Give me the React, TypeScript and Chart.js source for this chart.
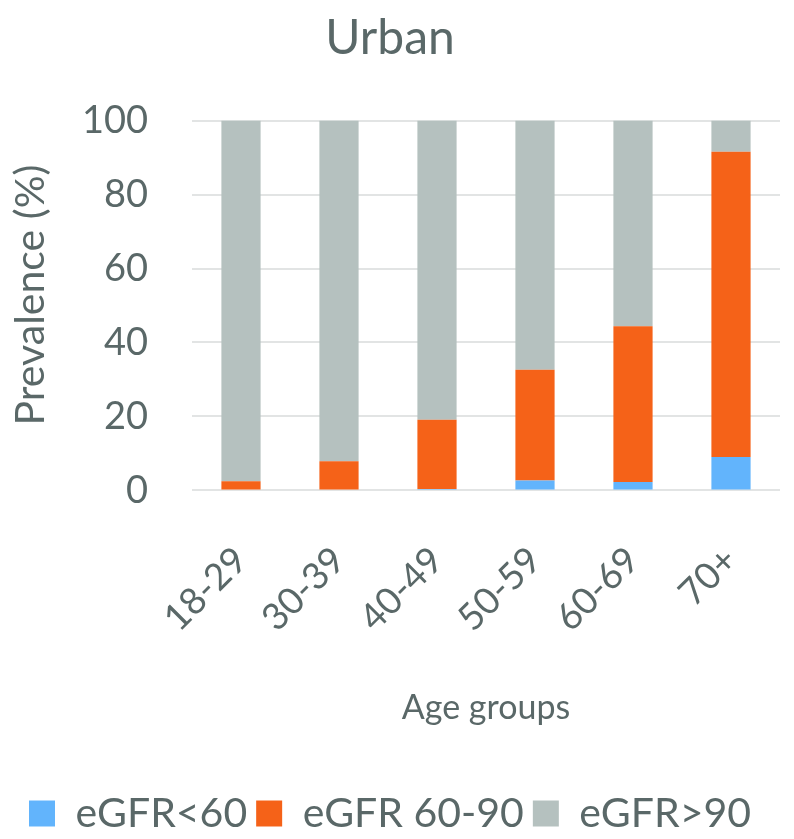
import React, { useEffect, useRef } from "react";
import { Chart, registerables } from "chart.js";

Chart.register(...registerables);

const categories = ["18-29", "30-39", "40-49", "50-59", "60-69", "70+"];
const egfrBelow60 = [0, 0, 0.4, 2.7, 2.3, 9.0];
const egfr60to90 = [2.5, 7.9, 18.7, 29.9, 42.1, 82.6];
const egfrAbove90 = [97.5, 92.1, 80.9, 67.4, 55.6, 8.4];
const yTicks = [0, 20, 40, 60, 80, 100];

const TEXT = "#5a6868";
const FONT = "Lato";

export default function App() {
  const ref = useRef<HTMLCanvasElement | null>(null);
  useEffect(() => {
    document.body.style.margin = "0";
    const ctx = ref.current!;
    const chart = new Chart(ctx, {
      type: "bar",
      data: {
        labels: categories,
        datasets: [
          { label: "eGFR<60", data: egfrBelow60, backgroundColor: "#62b4fc" },
          { label: "eGFR 60-90", data: egfr60to90, backgroundColor: "#f56218" },
          { label: "eGFR>90", data: egfrAbove90, backgroundColor: "#b5c1bf" },
        ],
      },
      options: {
        responsive: false,
        animation: false,
        layout: { padding: { left: 0, right: 14, top: 0, bottom: -5 } },
        datasets: { bar: { categoryPercentage: 1, barPercentage: 0.4 } },
        plugins: {
          title: {
            display: true,
            text: "Urban",
            color: TEXT,
            font: { family: FONT, size: 48, weight: "normal" },
            padding: { top: 10, bottom: 53 },
          },
          legend: {
            position: "bottom",
            labels: {
              color: TEXT,
              font: { family: FONT, size: 41 },
              boxWidth: 26,
              boxHeight: 26,
              padding: 9,
            },
          },
          tooltip: { enabled: false },
        },
        scales: {
          x: {
            stacked: true,
            grid: { display: false },
            border: { display: false },
            afterFit: (scale: any) => {
              scale.paddingLeft = 0;
              scale.paddingRight = 0;
            },
            ticks: {
              color: TEXT,
              font: { family: FONT, size: 37 },
              minRotation: 45,
              maxRotation: 45,
              padding: 40,
            },
            title: {
              display: true,
              text: "Age groups",
              color: TEXT,
              font: { family: FONT, size: 34 },
              padding: { top: 7, bottom: 56 },
            },
          },
          y: {
            stacked: true,
            min: 0,
            max: 100,
            afterBuildTicks: (axis: any) => {
              axis.ticks = yTicks.map((v) => ({ value: v }));
            },
            afterFit: (scale: any) => {
              scale.width = 192;
            },
            grid: { color: "#e2e4e4", lineWidth: 2, drawTicks: false },
            border: { display: false },
            ticks: {
              color: TEXT,
              font: { family: FONT, size: 38 },
              padding: 44,
            },
            title: {
              display: true,
              text: "  Prevalence (%)",
              color: TEXT,
              font: { family: FONT, size: 41 },
              padding: { top: 6, bottom: 20 },
            },
          },
        },
      },
    });
    return () => chart.destroy();
  }, []);
  return (
    <div style={{ width: 794, height: 839, background: "#fff" }}>
      <canvas ref={ref} width={794} height={839} />
    </div>
  );
}
